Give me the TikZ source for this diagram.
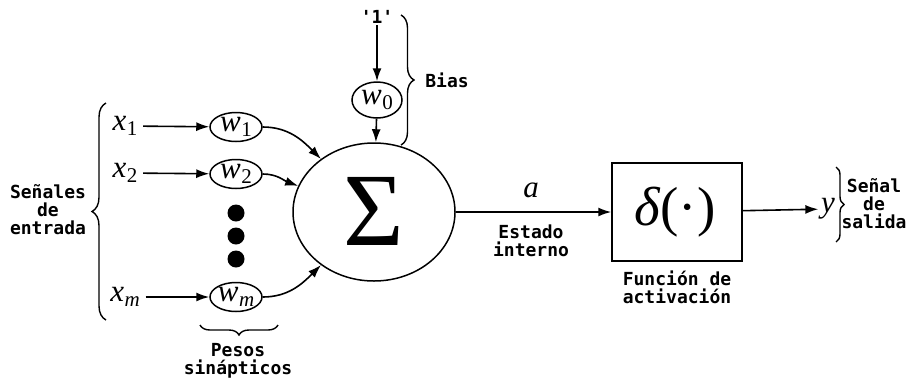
\documentclass[tikz,border=0pt]{standalone}
\usepackage{fontspec}
\setmainfont{Liberation Serif}
\setmonofont{DejaVu Sans Mono}
\usetikzlibrary{shapes.geometric,arrows.meta,decorations.pathreplacing}
% italic symbol with a small upright/italic index
\newcommand\symidx[2]{\textit{#1}\kern0.5pt\raisebox{-0.35ex}{\fontsize{21}{21}\selectfont #2}}
\begin{document}
\begin{tikzpicture}[x=1pt,y=-1pt,line width=1.6pt,
  arr/.style={-{Latex[length=13pt,width=9pt]}},
  wnode/.style={draw,line width=1.5pt,ellipse,minimum width=52pt,minimum height=29pt,inner sep=0pt,font=\fontsize{31}{31}\selectfont},
  lbl/.style={font=\ttfamily\bfseries\fontsize{18}{18}\selectfont,align=center,inner sep=1pt},
  sym/.style={font=\fontsize{31}{31}\selectfont,inner sep=5pt},
  dotnode/.style={circle,fill,minimum size=17pt,inner sep=0pt},
  curly/.style={decorate,decoration={brace,amplitude=#1}}]
\useasboundingbox (0,0) rectangle (909,381);

% inputs
\node[sym] (x1) at (125,126) {\symidx{x}{1}};
\node[sym] (x2) at (125,173) {\symidx{x}{2}};
\node[sym] (xm) at (125,297) {\symidx{x}{\textit{m}}};

% synaptic weights
\node[wnode] (w1) at (236,127) {\symidx{w}{1}};
\node[wnode] (w2) at (236,174) {\symidx{w}{2}};
\node[wnode] (wm) at (236,297) {\symidx{w}{\textit{m}}};
\node[dotnode] (d1) at (236,213) {};
\node[dotnode] (d2) at (236,236) {};
\node[dotnode] (d3) at (236,259) {};

% bias
\node[lbl] (one) at (377,17) {'1'};
\node[wnode,minimum width=50pt,minimum height=36pt] (w0) at (377,100) {\symidx{w}{0}};

% summation
\node[draw,line width=1.5pt,ellipse,minimum width=162pt,minimum height=138pt,inner sep=0pt] (sum) at (374,212) {};
\node[anchor=base,inner sep=0pt,font=\fontsize{104}{104}\selectfont] (sigma) at (374,245) {Σ};

% activation
\node[draw,line width=1.5pt,minimum width=130pt,minimum height=98pt,inner sep=0pt] (act) at (677,212) {};
\node[anchor=base,inner sep=0pt,font=\fontsize{55}{55}\selectfont] (delta) at (675,225) {\textit{δ}(·)};

\node[sym,inner sep=2pt] (a) at (531,190) {\textit{a}};
\node[sym,inner sep=2pt] (y) at (828,209) {\textit{y}};

% labels
\node[lbl] (inlbl) at (48,210) {Señales\\de\\entrada};
\node[lbl] (wlbl) at (238,361) {Pesos\\sinápticos};
\node[lbl] (bias) at (447,80) {Bias};
\node[lbl] (estado) at (531,241) {Estado\\interno};
\node[lbl] (fnlbl) at (677,287) {Función de\\activación};
\node[lbl] (outlbl) at (874,204) {Señal\\de\\salida};

% connectors
\draw[arr] (x1) -- (w1);
\draw[arr] (x2) -- (w2);
\draw[arr] (xm) -- (wm);
\draw[arr] (one) -- (w0);
\draw[arr] (w0) -- (sum);
\draw[arr] (w1.east) to[out=0,in=135] (sum.135);
\draw[arr] (w2.east) to[out=0,in=160] (sum.161);
\draw[arr] (wm.east) to[out=0,in=225] (sum.225);
\draw[arr] (sum) -- (act);
\draw[arr] (act) -- (y);

% braces
\draw[curly=14,line width=1.4pt] (106,320) -- (106,103);
\draw[curly=10,line width=1.4pt] (278,325) -- (200,325);
\draw[curly=13,line width=1.4pt] (401,15) -- (401,145);
\draw[curly=8,line width=1.4pt] (836,167) -- (836,242);
\end{tikzpicture}
\end{document}
